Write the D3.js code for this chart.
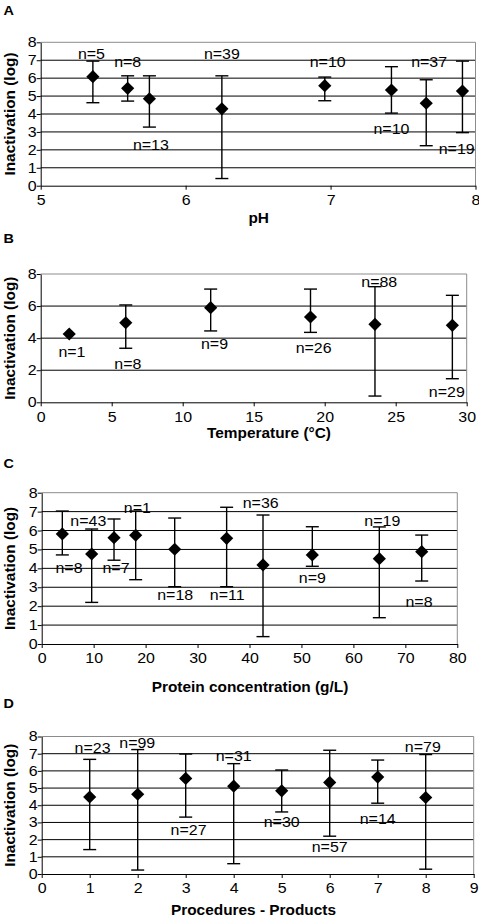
<!DOCTYPE html>
<html>
<head>
<meta charset="utf-8">
<script src="https://cdn.jsdelivr.net/npm/d3@7"></script>
<style>
  html, body { margin: 0; padding: 0; background: #fff; }
  svg { display: block; }
</style>
</head>
<body>
<script>
// ---------- DATA ----------
// Panel A: pH
const phX      = [5.36, 5.60, 5.75, 6.25, 6.96, 7.42, 7.66, 7.91];
const phMean   = [6.08, 5.43, 4.85, 4.29, 5.58, 5.34, 4.60, 5.28];
const phLow    = [4.63, 4.72, 3.27, 0.40, 4.74, 4.05, 2.23, 2.96];
const phHigh   = [6.95, 6.13, 6.13, 6.13, 6.06, 6.64, 5.91, 6.95];
const phN      = ["n=5", "n=8", "n=13", "n=39", "n=10", "n=10", "n=37", "n=19"];
const phLabX   = [5.35, 5.60, 5.76, 6.25, 6.98, 7.42, 7.68, 7.87];
const phLabY   = [7.35, 6.90, 2.25, 7.35, 6.90, 3.15, 6.90, 2.03];
const phTicksX = [5, 6, 7, 8];

// Panel B: Temperature
const tempX    = [2.01, 5.99, 11.97, 19.0, 23.54, 28.99];
const tempMean = [4.26, 4.96, 5.90, 5.32, 4.86, 4.80];
const tempLow  = [null, 3.37, 4.45, 4.36, 0.39, 1.47];
const tempHigh = [null, 6.07, 7.06, 7.06, 7.21, 6.67];
const tempN    = ["n=1", "n=8", "n=9", "n=26", "n=88", "n=29"];
const tempLabX = [2.2, 6.14, 12.24, 19.22, 23.84, 28.6];
const tempLabY = [3.12, 2.39, 3.63, 3.40, 7.52, 0.66];
const tempTicksX = [0, 5, 10, 15, 20, 25, 30];

// Panel C: Protein concentration
const protX    = [3.97, 9.62, 13.92, 18.09, 25.6, 35.6, 42.6, 52.09, 64.99, 73.15];
const protMean = [5.82, 4.76, 5.62, 5.75, 5.01, 5.59, 4.18, 4.71, 4.51, 4.88];
const protLow  = [4.71, 2.20, 4.43, 3.40, 3.03, 3.03, 0.39, 4.11, 1.39, 3.33];
const protHigh = [7.03, 6.08, 6.61, 7.03, 6.66, 7.23, 6.82, 6.20, 6.19, 5.76];
const protN    = ["n=8", "n=43", "n=7", "n=1", "n=18", "n=11", "n=36", "n=9", "n=19", "n=8"];
const protLabX = [5.26, 8.97, 14.3, 18.4, 25.7, 35.7, 42.15, 52.1, 65.56, 72.63];
const protLabY = [4.0, 6.5, 4.0, 7.18, 2.59, 2.59, 7.44, 3.47, 6.5, 2.24];
const protTicksX = [0, 10, 20, 30, 40, 50, 60, 70, 80];

// Panel D: Procedures - Products
const procX    = [1, 2, 3, 4, 5, 6, 7, 8];
const procMean = [4.48, 4.64, 5.56, 5.11, 4.84, 5.33, 5.64, 4.45];
const procLow  = [1.42, 0.23, 3.31, 0.60, 3.61, 2.20, 4.12, 0.28];
const procHigh = [6.67, 7.24, 6.98, 6.42, 6.05, 7.20, 6.63, 6.95];
const procN    = ["n=23", "n=99", "n=27", "n=31", "n=30", "n=57", "n=14", "n=79"];
const procLabX = [1.06, 1.99, 3.06, 4.0, 5.0, 6.0, 7.0, 7.94];
const procLabY = [7.35, 7.65, 2.59, 6.89, 3.02, 1.60, 3.18, 7.38];
const procTicksX = [0, 1, 2, 3, 4, 5, 6, 7, 8, 9];

const yTicks1 = [0, 1, 2, 3, 4, 5, 6, 7, 8];
const yTicks2 = [0, 2, 4, 6, 8];
const yTitle = "Inactivation (log)";

// ---------- LAYOUT ----------
const W = 479, H = 918;
const FONT = "'Liberation Sans', Arial, Helvetica, sans-serif";
const SX = 1.14;          // horizontal stretch of small labels
const SMALL = 14;         // small label font size
const TITLE = 15.4;       // axis title font size

const panels = [
  { letter: "A", letterY: 15,    left: 40.7, right: 475.5, top: 42.3,  bottom: 185.7,
    xDom: [5, 8],  xTicks: phTicksX, yTicks: yTicks1, xTitle: "pH",
    titleX: 258.7, titleY: 222.7,
    x: phX, mean: phMean, low: phLow, high: phHigh, n: phN, lx: phLabX, ly: phLabY },
  { letter: "B", letterY: 243.3, left: 40.7, right: 466.7, top: 274,   bottom: 402.3,
    xDom: [0, 30], xTicks: tempTicksX, yTicks: yTicks2, xTitle: "Temperature (\u00B0C)",
    titleX: 269, titleY: 438.3,
    x: tempX, mean: tempMean, low: tempLow, high: tempHigh, n: tempN, lx: tempLabX, ly: tempLabY },
  { letter: "C", letterY: 468.3, left: 41.7, right: 457.3, top: 492.7, bottom: 644,
    xDom: [0, 80], xTicks: protTicksX, yTicks: yTicks1, xTitle: "Protein concentration (g/L)",
    titleX: 250, titleY: 691.7,
    x: protX, mean: protMean, low: protLow, high: protHigh, n: protN, lx: protLabX, ly: protLabY },
  { letter: "D", letterY: 708.3, left: 41.7, right: 473.7, top: 736.5, bottom: 874,
    xDom: [0, 9],  xTicks: procTicksX, yTicks: yTicks1, xTitle: "Procedures - Products",
    titleX: 253.5, titleY: 915,
    x: procX, mean: procMean, low: procLow, high: procHigh, n: procN, lx: procLabX, ly: procLabY }
];

const svg = d3.select("body").append("svg")
  .attr("width", W).attr("height", H)
  .attr("viewBox", `0 0 ${W} ${H}`);

svg.append("rect").attr("width", W).attr("height", H).attr("fill", "#fff");

const diamond = {
  draw(ctx, size) {
    const r = Math.sqrt(size / 2);
    ctx.moveTo(0, -r); ctx.lineTo(r, 0); ctx.lineTo(0, r); ctx.lineTo(-r, 0); ctx.closePath();
  }
};
const sym = d3.symbol().type(diamond).size(2 * 6.6 * 6.6);

panels.forEach(p => {
  const g = svg.append("g");
  const xs = d3.scaleLinear().domain(p.xDom).range([p.left, p.right]);
  const ys = d3.scaleLinear().domain([0, 8]).range([p.bottom, p.top]);

  // panel letter
  g.append("text")
    .attr("transform", `translate(3.5,${p.letterY}) scale(1.2,1)`)
    .attr("font-family", FONT).attr("font-weight", "bold").attr("font-size", 12)
    .attr("fill", "#000").text(p.letter);

  // gridlines (excluding axis and top border)
  g.append("g").selectAll("line")
    .data(p.yTicks.filter(t => t > 0 && t < 8))
    .join("line")
    .attr("x1", p.left).attr("x2", p.right)
    .attr("y1", d => ys(d)).attr("y2", d => ys(d))
    .attr("stroke", "#000").attr("stroke-width", 1);

  // plot area border (gray, top + right)
  g.append("path")
    .attr("d", `M${p.left},${p.top}H${p.right}V${p.bottom}`)
    .attr("fill", "none").attr("stroke", "#8c8c8c").attr("stroke-width", 1);

  // y axis
  const gy = g.append("g").attr("transform", `translate(${p.left},0)`)
    .call(d3.axisLeft(ys).tickValues(p.yTicks).tickFormat(d3.format("d"))
      .tickSize(4).tickSizeOuter(0).tickPadding(0));
  // x axis
  const gx = g.append("g").attr("transform", `translate(0,${p.bottom})`)
    .call(d3.axisBottom(xs).tickValues(p.xTicks).tickFormat(d3.format("d"))
      .tickSize(4).tickSizeOuter(0).tickPadding(5.5));

  [gy, gx].forEach(ax => {
    ax.attr("font-family", FONT).attr("font-size", SMALL);
    ax.select(".domain").attr("stroke", "#000").attr("stroke-width", 1);
    ax.selectAll(".tick line").attr("stroke", "#000").attr("stroke-width", 1);
    ax.selectAll(".tick text").attr("fill", "#000");
  });
  gy.selectAll(".tick text").each(function () {
    const t = d3.select(this);
    const x0 = +t.attr("x");
    t.attr("x", 0).attr("transform", `translate(${x0},0) scale(${SX},1)`);
  });
  gx.selectAll(".tick text").attr("transform", `scale(${SX},1)`);

  // axis titles
  g.append("text")
    .attr("x", p.titleX).attr("y", p.titleY)
    .attr("text-anchor", "middle")
    .attr("font-family", FONT).attr("font-weight", "bold").attr("font-size", TITLE)
    .attr("fill", "#000").text(p.xTitle);
  g.append("text")
    .attr("transform", `translate(15,${(p.top + p.bottom) / 2}) rotate(-90)`)
    .attr("text-anchor", "middle")
    .attr("font-family", FONT).attr("font-weight", "bold").attr("font-size", TITLE)
    .attr("fill", "#000").text(yTitle);

  const rows = p.x.map((xv, i) => ({
    x: xv, m: p.mean[i], lo: p.low[i], hi: p.high[i], n: p.n[i], lx: p.lx[i], ly: p.ly[i]
  }));

  // error bars
  const eb = g.append("g").attr("stroke", "#000").attr("stroke-width", 1.4).attr("fill", "none");
  const withErr = rows.filter(r => r.lo != null && r.hi != null);
  eb.selectAll("line.v").data(withErr).join("line").attr("class", "v")
    .attr("x1", d => xs(d.x)).attr("x2", d => xs(d.x))
    .attr("y1", d => ys(d.hi)).attr("y2", d => ys(d.lo));
  eb.selectAll("line.hi").data(withErr).join("line").attr("class", "hi")
    .attr("x1", d => xs(d.x) - 6.5).attr("x2", d => xs(d.x) + 6.5)
    .attr("y1", d => ys(d.hi)).attr("y2", d => ys(d.hi));
  eb.selectAll("line.lo").data(withErr).join("line").attr("class", "lo")
    .attr("x1", d => xs(d.x) - 6.5).attr("x2", d => xs(d.x) + 6.5)
    .attr("y1", d => ys(d.lo)).attr("y2", d => ys(d.lo));

  // markers
  g.append("g").selectAll("path").data(rows).join("path")
    .attr("d", sym)
    .attr("transform", d => `translate(${xs(d.x)},${ys(d.m)})`)
    .attr("fill", "#000");

  // n labels
  g.append("g").selectAll("text").data(rows).join("text")
    .attr("transform", d => `translate(${xs(d.lx)},${ys(d.ly)}) scale(${SX},1)`)
    .attr("dy", "0.36em")
    .attr("text-anchor", "middle")
    .attr("font-family", FONT).attr("font-size", SMALL)
    .attr("fill", "#000")
    .text(d => d.n);
});
</script>
</body>
</html>
